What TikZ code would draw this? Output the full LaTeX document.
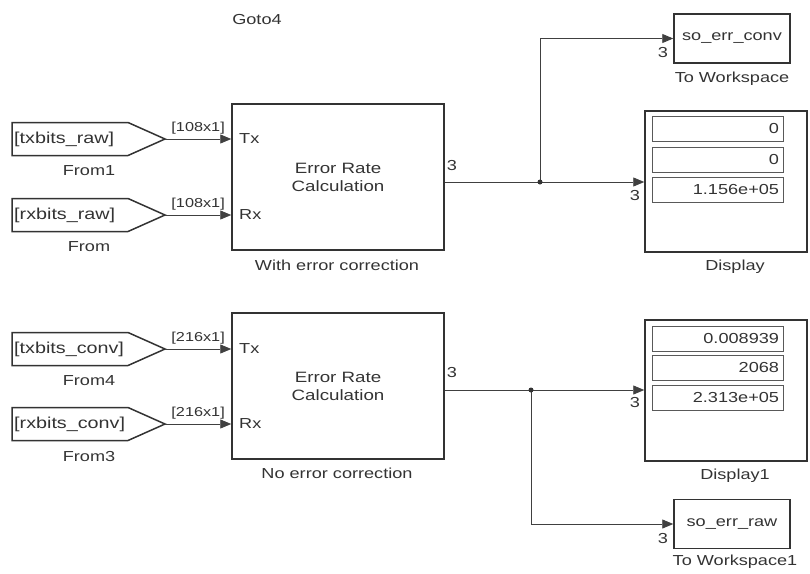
\documentclass[tikz,border=0pt]{standalone}
\usepackage{fontspec}
\setmainfont[FakeStretch=1.25]{Liberation Sans}
\usetikzlibrary{arrows.meta}
\begin{document}
\begin{tikzpicture}[x=1pt,y=-1pt,font=\fontsize{14.5}{17}\selectfont,text=black!80,
  blk/.style={draw=black!80,line width=1.5pt},
  fld/.style={draw=black!65,line width=1pt,text width=123pt,align=right,minimum height=25pt,inner sep=4pt},
  sig/.style={draw=black!75,line width=0.9pt},
  arr/.style={sig,-{Triangle[length=11pt,width=9pt]}},
  dim/.style={midway,above=1pt,font=\fontsize{13}{15}\selectfont}]
\useasboundingbox (0,0) rectangle (810,573);
\node (goto) at (257,20) {Goto4};
% from tags
\foreach \n/\y/\txt/\lab in {fa/139/{[txbits\_raw]}/From1, fb/215/{[rxbits\_raw]}/From, fc/349/{[txbits\_conv]}/From4, fd/424/{[rxbits\_conv]}/From3}{
  \draw[blk] (12,\y-16.5) -- (128,\y-16.5) -- (165,\y) coordinate (\n) -- (128,\y+16.5) -- (12,\y+16.5) -- cycle;
  \node[anchor=west,inner sep=1pt,font=\fontsize{15.8}{18}\selectfont] (\n t) at (13,\y) {\txt};
  \node (\n l) at (89,\y+32) {\lab};
}
% error rate blocks
\node[blk,minimum width=212pt,minimum height=146pt,align=center,font=\fontsize{15}{18}\selectfont] (erc1) at (338,177) {Error Rate\\Calculation};
\node[blk,minimum width=212pt,minimum height=146pt,align=center,font=\fontsize{15}{18}\selectfont] (erc2) at (338,386) {Error Rate\\Calculation};
\node (erc1l) at (337,265) {With error correction};
\node (erc2l) at (337,473) {No error correction};
\node[anchor=west,inner sep=1pt] (tx1) at (238,139) {Tx};
\node[anchor=west,inner sep=1pt] (rx1) at (238,215) {Rx};
\node[anchor=west,inner sep=1pt] (tx2) at (238,349) {Tx};
\node[anchor=west,inner sep=1pt] (rx2) at (238,424) {Rx};
\draw[arr] (fa) -- (fa -| erc1.west) node[dim] {[108x1]};
\draw[arr] (fb) -- (fb -| erc1.west) node[dim] {[108x1]};
\draw[arr] (fc) -- (fc -| erc2.west) node[dim] {[216x1]};
\draw[arr] (fd) -- (fd -| erc2.west) node[dim] {[216x1]};
% sinks
\node[blk,minimum width=162pt,minimum height=141pt] (disp1) at (726,181.5) {};
\node[fld] (d1a) at (717.5,129) {0};
\node[fld] (d1b) at (717.5,159.5) {0};
\node[fld] (d1c) at (717.5,189.5) {1.156e+05};
\node (disp1l) at (735,267) {Display};
\node[blk,minimum width=116pt,minimum height=49pt] (ws1) at (732,38.5) {so\_err\_conv};
\node (ws1l) at (732,79) {To Workspace};
\node[blk,minimum width=162pt,minimum height=141pt] (disp2) at (726,390.5) {};
\node[fld] (d2a) at (717.5,338.5) {0.008939};
\node[fld] (d2b) at (717.5,368) {2068};
\node[fld] (d2c) at (717.5,398) {2.313e+05};
\node (disp2l) at (735,476) {Display1};
\node[blk,minimum width=116pt,minimum height=49pt] (ws2) at (732,524) {so\_err\_raw};
\node (ws2l) at (735,562) {To Workspace1};
% signal lines
\coordinate (j1) at (540,182);
\coordinate (j2) at (531,390);
\draw[arr] (erc1.east |- j1) -- (disp1.west |- j1);
\draw[arr] (j1) |- (ws1.west);
\fill[black!80] (j1) circle (2.5pt);
\draw[arr] (erc2.east |- j2) -- (disp2.west |- j2);
\draw[arr] (j2) |- (ws2.west);
\fill[black!80] (j2) circle (2.5pt);
\node (o1) at (452,166) {3};
\node (o2) at (452,373) {3};
\node (i1) at (635,196) {3};
\node (i2) at (635,403) {3};
\node (i3) at (663,53) {3};
\node (i4) at (663,538) {3};
\end{tikzpicture}
\end{document}
